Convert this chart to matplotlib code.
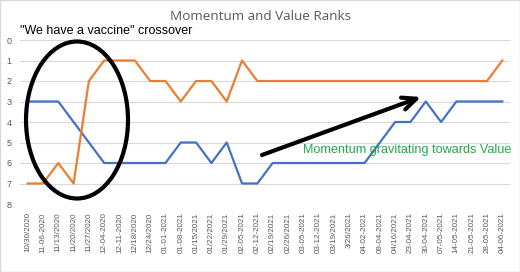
import matplotlib
matplotlib.use("Agg")
import matplotlib.pyplot as plt
from matplotlib.patches import Ellipse, Rectangle

# Weekly dates (as labelled in the source sheet)
dates = [
    "10/30/2020", "11-06-2020", "11/13/2020", "11/20/2020", "11/27/2020",
    "12-04-2020", "12-11-2020", "12/18/2020", "12/24/2020", "01-01-2021",
    "01-08-2021", "01/15/2021", "01/22/2021", "01/29/2021", "02-05-2021",
    "02-12-2021", "02/19/2021", "02/26/2021", "03-05-2021", "03-12-2021",
    "03/19/2021", "3/26/2021", "04-02-2021", "09-04-2021", "04/16/2021",
    "23-04-2021", "30-04-2021", "07-05-2021", "14-05-2021", "21-05-2021",
    "28-05-2021", "04-06-2021",
]

# Ranks (1 = best)
momentum = [3, 3, 3, 4, 5, 6, 6, 6, 6, 6, 5, 5, 6, 5, 7, 7,
            6, 6, 6, 6, 6, 6, 6, 5, 4, 4, 3, 4, 3, 3, 3, 3]
value = [7, 7, 6, 7, 2, 1, 1, 1, 2, 2, 3, 2, 2, 3, 1, 2,
         2, 2, 2, 2, 2, 2, 2, 2, 2, 2, 2, 2, 2, 2, 2, 1]

W, H = 520, 272
fig = plt.figure(figsize=(W / 100, H / 100), dpi=100)
ax = fig.add_axes([20 / W, 1 - 204 / H, 490 / W, 164 / H])

x = list(range(len(dates)))
ax.plot(x, momentum, color="#4472C4", lw=1.6, label="Momentum")
ax.plot(x, value, color="#ED7D31", lw=1.6, label="Value")

ax.set_xlim(-0.5, len(dates) - 0.5)
ax.set_ylim(8, 0)
ax.set_yticks(range(0, 9))
ax.set_xticks(x)
ax.set_xticklabels(dates, rotation=90, fontsize=5.8, color="#595959",
                   family="Liberation Sans")
for t in ax.get_yticklabels():
    t.set_fontsize(6.5)
    t.set_color("#595959")
    t.set_family("Liberation Sans")
ax.tick_params(length=0)
ax.tick_params(axis="x", pad=6)
ax.tick_params(axis="y", pad=6)
ax.grid(axis="y", color="#D9D9D9", lw=0.8)
ax.set_axisbelow(True)
for s in ax.spines.values():
    s.set_visible(False)

fig.text(0.5, 1 - 17 / H, "Momentum and Value Ranks", ha="center", va="center",
         fontsize=9.7, color="#595959", family="Open Sans")

# annotations drawn on the chart
fig.text(20 / W, 1 - 34 / H, '"We have a vaccine" crossover', ha="left",
         va="baseline", fontsize=9, color="black", family="Liberation Sans")
fig.text(303 / W, 1 - 150 / H, "Momentum gravitating towards Value", ha="left",
         va="center", fontsize=9.1, color="#22A84A", family="Liberation Sans")

fig.patches.append(Ellipse((77 / W, 1 - 120 / H), 102 / W, 157 / H,
                           transform=fig.transFigure, fill=False,
                           ec="black", lw=3))
ax.annotate("", xy=(421 / W, 1 - 97 / H), xytext=(262 / W, 1 - 155 / H),
            xycoords="figure fraction", textcoords="figure fraction",
            arrowprops=dict(arrowstyle="->,head_length=1.0,head_width=0.45",
                            color="black", lw=3, shrinkA=0, shrinkB=0))

# legend sits at the very bottom edge, partly cut off as in the source
leg = fig.legend(loc="upper center", bbox_to_anchor=(0.53, 1 - 266 / H),
                 ncol=2, frameon=False, fontsize=8, handlelength=2.5,
                 columnspacing=3, borderpad=0)
for t in leg.get_texts():
    t.set_color("#595959")

fig.patches.append(Rectangle((0, 0), 1, 1, transform=fig.transFigure,
                             fill=False, ec="#D9D9D9", lw=1))

fig.savefig("out.png", dpi=100)
